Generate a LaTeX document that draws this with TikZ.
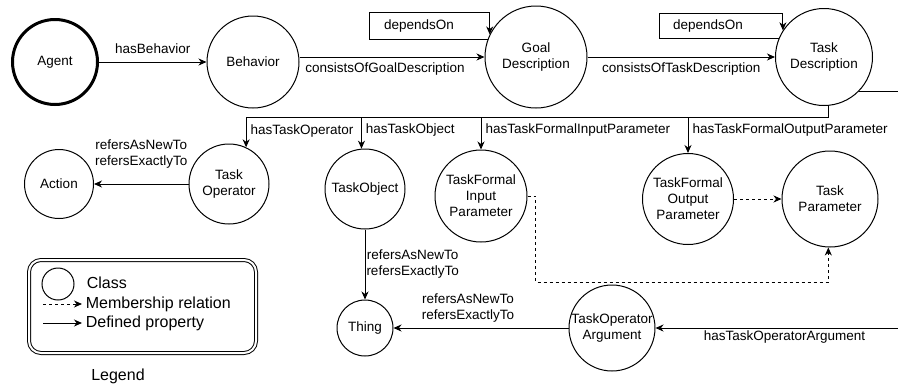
\documentclass[tikz,border=0pt]{standalone}
\usepackage{fontspec}
\setmainfont{Liberation Sans}
\usetikzlibrary{arrows.meta,positioning}

\tikzset{
	cls/.style={shape=circle,draw=black,inner sep=0pt,align=center},
	prop/.style={draw=black,-{Stealth[length=8bp,width=7bp,inset=2.5bp]}},
	member/.style={prop,dash pattern=on 3bp off 3bp},
	lbl/.style={align=center,inner sep=2bp},
	legendfont/.style={font=\fontsize{16bp}{19bp}\selectfont},
}

\begin{document}
\begin{tikzpicture}[x=1bp,y=-1bp,line width=1bp,font=\fontsize{13.5bp}{16bp}\selectfont]
	\useasboundingbox (0,0) rectangle (898,387);

	\node[cls,line width=3bp,minimum size=85bp] (agent) at (55,62) {Agent};
	\node[cls,minimum size=92bp] (behavior) at (253,62) {Behavior};
	\node[cls,minimum size=102bp] (goalDesc) at (536,57) {Goal\\Description};
	\node[cls,minimum size=97bp] (taskDesc) at (824,57) {Task\\Description};
	\node[cls,minimum size=69bp] (action) at (59,184) {Action};
	\node[cls,minimum size=80bp] (taskOp) at (229,184) {Task\\Operator};
	\node[cls,minimum size=80bp] (taskObj) at (365,189) {TaskObject};
	\node[cls,minimum size=92bp] (taskIn) at (481,196) {TaskFormal\\Input\\Parameter};
	\node[cls,minimum size=91bp] (taskOut) at (688,199) {TaskFormal\\Output\\Parameter};
	\node[cls,minimum size=96bp] (taskPar) at (830,199) {Task\\Parameter};
	\node[cls,minimum size=56bp] (thing) at (365,328) {Thing};
	\node[cls,minimum size=86bp] (taskOpArg) at (612,328) {TaskOperator\\Argument};

	\coordinate (bus) at (0,117);
	\coordinate (mrow) at (0,282);
	\coordinate (farR) at (930,0);

	\path[prop] (agent) edge node[lbl,above=6bp] {hasBehavior} (behavior);
	\draw[prop] (behavior.east |- goalDesc) -- node[lbl,below=3bp,xshift=-7bp] {consistsOfGoalDescription} (goalDesc.west);
	\path[prop] (goalDesc) edge node[lbl,below=3bp] {consistsOfTaskDescription} (taskDesc);

	% dependsOn loops
	\draw[prop] (goalDesc.160) -| (369,12) -| (goalDesc.154);
	\node (dep1) at (419,26) {dependsOn};
	\draw[prop] (taskDesc.158) -| (659,13) -| (taskDesc.147);
	\node (dep2) at (708,26) {dependsOn};

	% task description parts
	\draw (taskDesc.275) |- (taskOp.65 |- bus);
	\draw[prop] (taskOp.65 |- bus) -- node[lbl,right=2bp,pos=0.45] {hasTaskOperator} (taskOp.65);
	\draw[prop] (taskObj.95 |- bus) -- node[lbl,right=2bp,pos=0.42] {hasTaskObject} (taskObj.95);
	\draw[prop] (taskIn.north |- bus) -- node[lbl,right=2bp,pos=0.4] {hasTaskFormalInputParameter} (taskIn.north);
	\draw[prop] (taskOut.north |- bus) -- node[lbl,right=2bp,pos=0.37] {hasTaskFormalOutputParameter} (taskOut.north);

	\path[prop] (taskOp) edge node[lbl,above=13bp] {refersAsNewTo\\refersExactlyTo} (action);
	\path[prop] (taskObj) edge node[lbl,right,inner sep=1bp] {refersAsNewTo\\refersExactlyTo} (thing);
	\path[prop] (taskOpArg) edge node[lbl,above=3bp,xshift=-13bp] {refersAsNewTo\\refersExactlyTo} (thing);
	\draw[prop] (taskDesc.-45) -- (taskDesc.-45 -| farR) |- node[lbl,below,pos=0.765] {hasTaskOperatorArgument} (taskOpArg.east);

	% membership
	\draw[member] (taskIn.east) -- ++(8,0) |- (taskPar.268 |- mrow) -- (taskPar.268);
	\path[member] (taskOut) edge (taskPar);

	% legend
	\draw[double,double distance=2bp,rounded corners=12bp] (29,260) rectangle (256,353);
	\node[cls,minimum size=32bp] (lgClass) at (58,284) {};
	\node[legendfont,anchor=west] (lgClassTxt) at (83,283) {Class};
	\node[legendfont,anchor=west] (lgMemTxt) at (82,304) {Membership relation};
	\node[legendfont,anchor=west] (lgPropTxt) at (82,323) {Defined property};
	\coordinate (lgMem) at (43,304);
	\coordinate (lgProp) at (43,323);
	\draw[member] (lgMem) -- (lgMemTxt.west);
	\draw[prop] (lgProp) -- (lgPropTxt.west);
	\node[legendfont] (lgTitle) at (118,376) {Legend};

\end{tikzpicture}
\end{document}
